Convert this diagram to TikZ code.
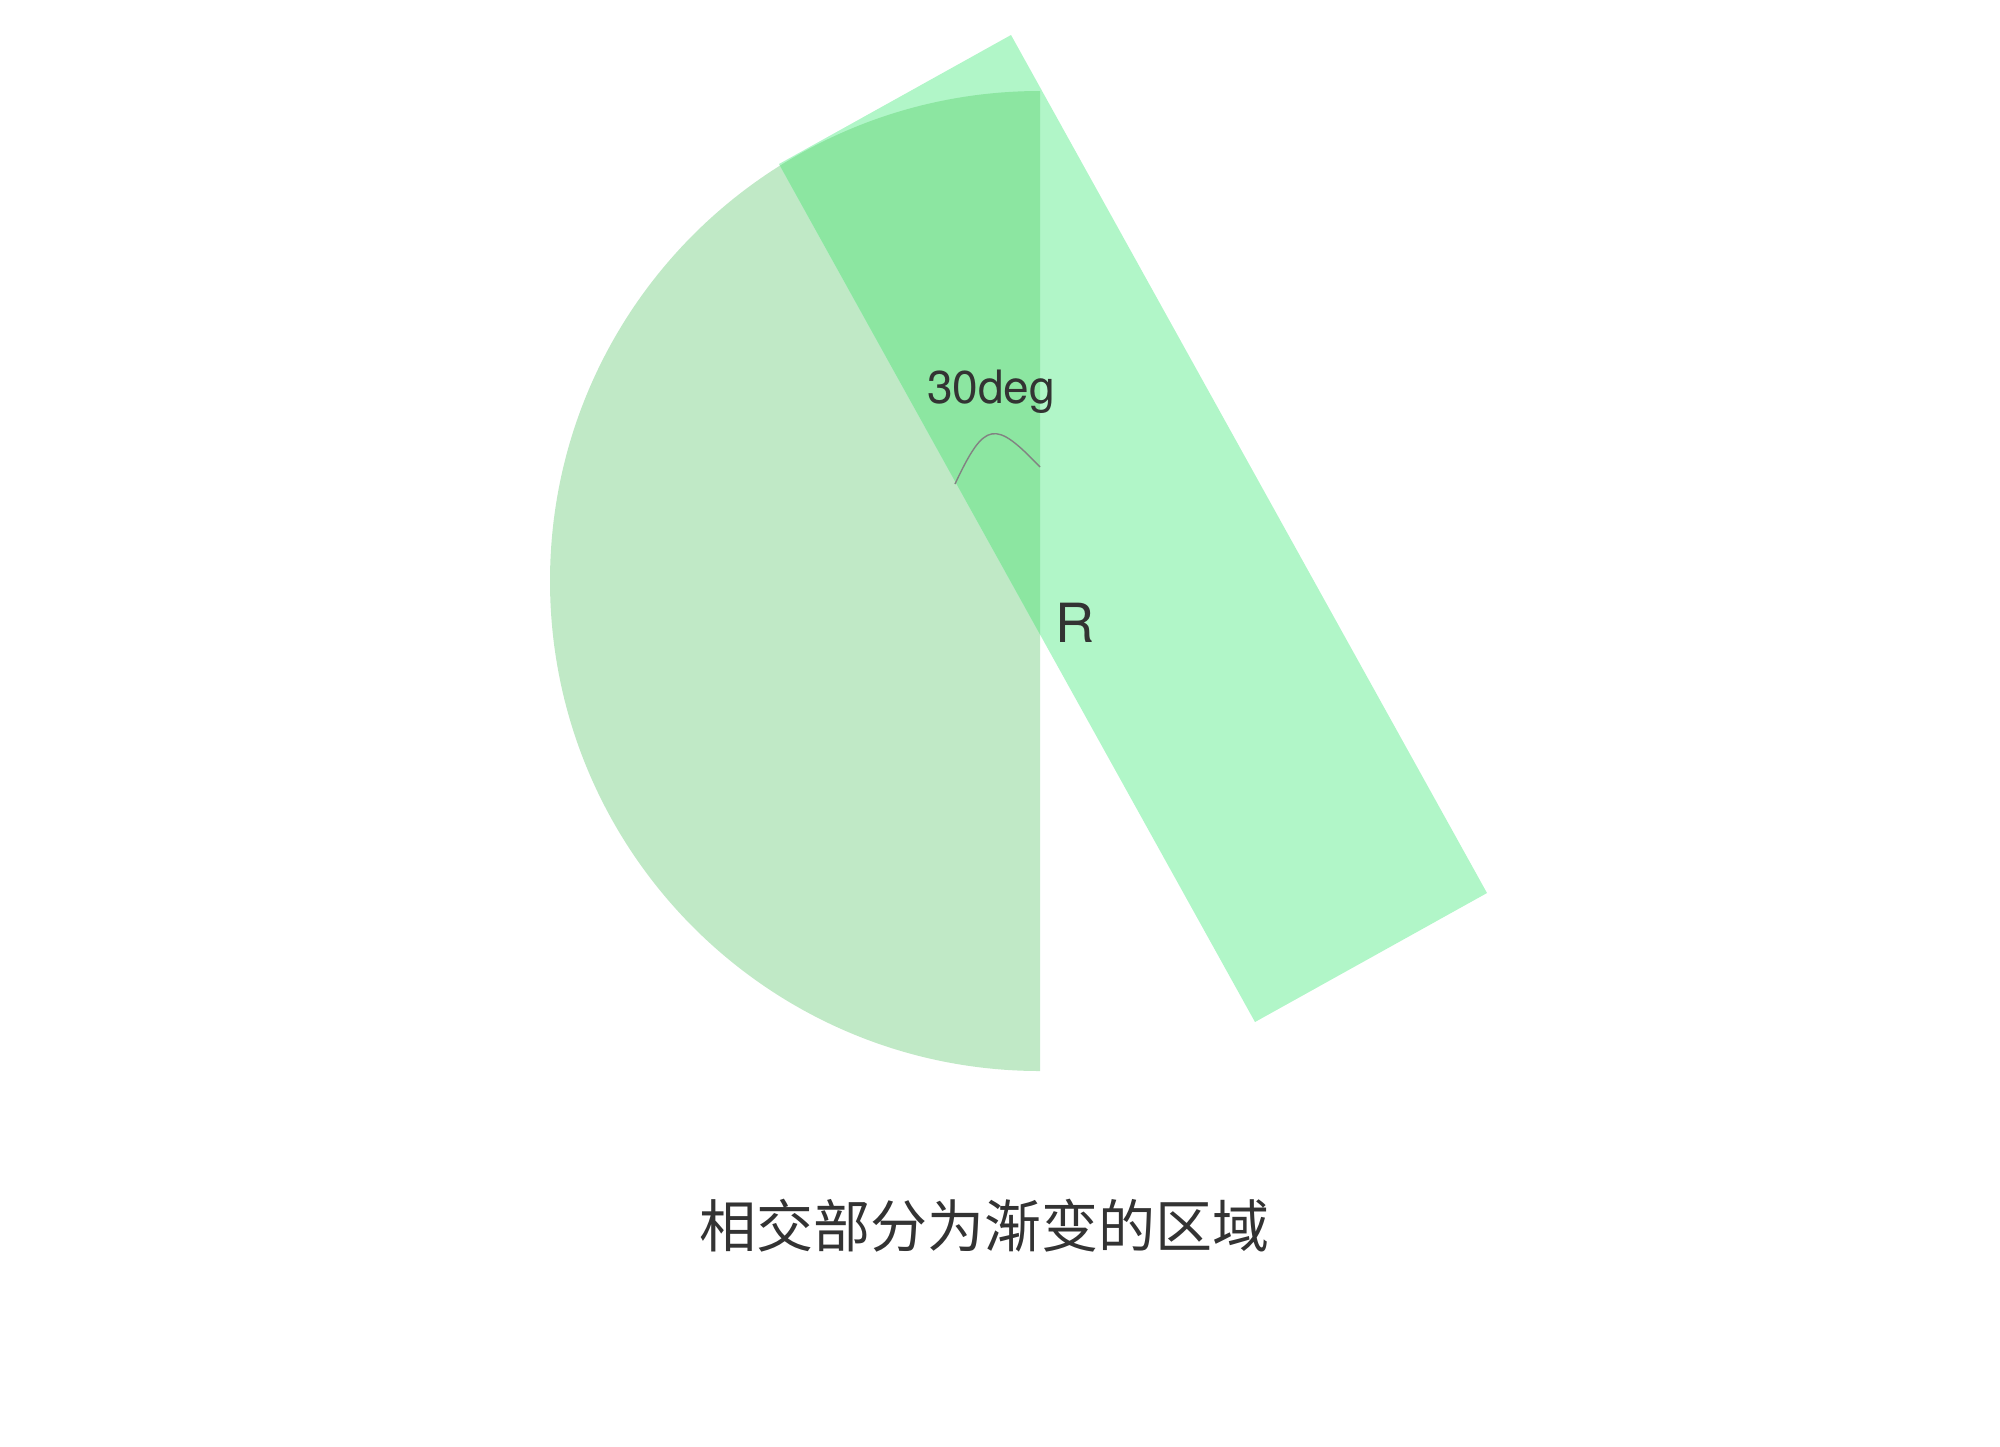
\documentclass[tikz,border=0pt]{standalone}
\usepackage{fontspec}
\setmainfont{TeX Gyre Heros}
\newfontfamily\cjk{Noto Sans CJK SC}
\definecolor{semic}{RGB}{192,233,198}
\definecolor{rectc}{RGB}{177,246,200}
\definecolor{overc}{RGB}{140,230,161}
\definecolor{txt}{RGB}{51,51,51}
\definecolor{arcc}{RGB}{130,130,130}
\begin{document}
\begin{tikzpicture}[x=0.5pt,y=-0.5pt,
  lbl/.style={inner sep=0pt,text=txt}]
\useasboundingbox (0,0) rectangle (2000,1446);
% semicircle
\coordinate (ctop) at (1040,91);
\coordinate (cbot) at (1040,1071);
\fill[semic] (ctop) arc[start angle=270,end angle=90,radius=490] -- cycle;
% rectangle
\coordinate (r1) at (1011,35);
\coordinate (r2) at (1487,893);
\coordinate (r3) at (1255,1022);
\coordinate (r4) at (779,164);
\fill[rectc] (r1) -- (r2) -- (r3) -- (r4) -- cycle;
% overlap
\begin{scope}
\clip (ctop) arc[start angle=270,end angle=90,radius=490] -- cycle;
\fill[overc] (r1) -- (r2) -- (r3) -- (r4) -- cycle;
\end{scope}
% angle mark
\coordinate (a1) at (955,484);
\coordinate (a2) at (1040,467);
\draw[arcc,line width=0.7pt] (a1) .. controls (985,420) and (995,420) .. (a2);
% labels
\node[lbl,anchor=base] (deg) at (991,403) {\fontsize{23}{27}\selectfont 30deg};
\node[lbl,anchor=base west] (R) at (1055,642) {\fontsize{27}{32}\selectfont R};
\node[lbl] (cap) at (984,1226) {\cjk\fontsize{28.5}{33}\selectfont 相交部分为渐变的区域};
\end{tikzpicture}
\end{document}
